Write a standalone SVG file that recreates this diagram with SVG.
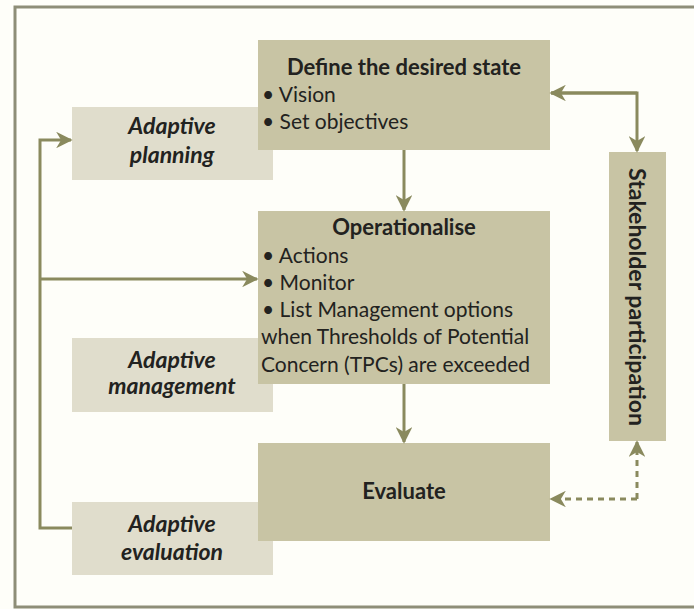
<svg xmlns="http://www.w3.org/2000/svg" width="694" height="609" viewBox="0 0 694 609">
<style>
.main{fill:#c8c4a4}
.adapt{fill:#e0ddcc}
.t{font-family:Lato,"Open Sans",sans-serif;fill:#222220}
.title{font-weight:bold;font-size:22px}
.body{font-size:21px}
.ital{font-weight:bold;font-style:italic;font-size:23px}
.con{stroke:#8a8a5e;stroke-width:3;fill:none}
.dash{stroke-dasharray:6,5}
</style>
<defs>
<marker id="ah" viewBox="0 0 10 10" refX="9" refY="5" markerWidth="5.5" markerHeight="5.5" orient="auto" markerUnits="strokeWidth">
<path d="M0,0 L10,5 L0,10 L3,5 Z" fill="#8a8a5e"/>
</marker>
</defs>
<rect x="0" y="0" width="694" height="609" fill="#fefef9"/>
<path d="M694,7 L15,7 L15,607 L694,607" fill="none" stroke="#8e8e78" stroke-width="3"/>
<g id="adaptive-planning">
<rect class="adapt" x="72" y="107" width="201" height="73"/>
<text class="t ital" x="172" y="134" text-anchor="middle">Adaptive</text>
<text class="t ital" x="172" y="163" text-anchor="middle">planning</text>
</g>
<g id="adaptive-management">
<rect class="adapt" x="72" y="338" width="201" height="74"/>
<text class="t ital" x="172" y="368" text-anchor="middle">Adaptive</text>
<text class="t ital" x="172" y="394" text-anchor="middle">management</text>
</g>
<g id="adaptive-evaluation">
<rect class="adapt" x="72" y="502" width="201" height="73"/>
<text class="t ital" x="172" y="532" text-anchor="middle">Adaptive</text>
<text class="t ital" x="172" y="560" text-anchor="middle">evaluation</text>
</g>
<g id="define">
<rect class="main" x="258" y="40" width="292" height="110"/>
<text class="t title" x="404" y="75" text-anchor="middle">Define the desired state</text>
<text class="t body" x="262" y="102">• Vision</text>
<text class="t body" x="262" y="129">•  Set objectives</text>
</g>
<g id="operationalise">
<rect class="main" x="258" y="211" width="292" height="173"/>
<text class="t title" x="404" y="235" text-anchor="middle">Operationalise</text>
<text class="t body" x="262" y="263">• Actions</text>
<text class="t body" x="262" y="290">• Monitor</text>
<text class="t body" x="262" y="317">• List Management options</text>
<text class="t body" x="261" y="344">when Thresholds of Potential</text>
<text class="t body" x="261" y="372">Concern (TPCs) are exceeded</text>
</g>
<g id="evaluate">
<rect class="main" x="258" y="443" width="292" height="98"/>
<text class="t title" x="404" y="499" text-anchor="middle">Evaluate</text>
</g>
<g id="stakeholder">
<rect class="main" x="609" y="152" width="57" height="289"/>
<text class="t title" transform="translate(629,297) rotate(90)" text-anchor="middle" style="font-size:23px">Stakeholder participation</text>
</g>
<g id="connectors">
<path class="con" d="M404,150 L404,210" marker-end="url(#ah)"/>
<path class="con" d="M404,384 L404,442" marker-end="url(#ah)"/>
<path class="con" d="M72,528 L40,528 L40,140 L71,140" marker-end="url(#ah)"/>
<path class="con" d="M40,279 L257,279" marker-end="url(#ah)"/>
<path class="con" d="M637,93 L551,93" marker-end="url(#ah)"/>
<path class="con" d="M551,93 L637,93 L637,151" marker-end="url(#ah)"/>
<path class="con dash" d="M637,499 L637,442" marker-end="url(#ah)"/>
<path class="con dash" d="M637,499 L551,499" marker-end="url(#ah)"/>
</g>
</svg>
